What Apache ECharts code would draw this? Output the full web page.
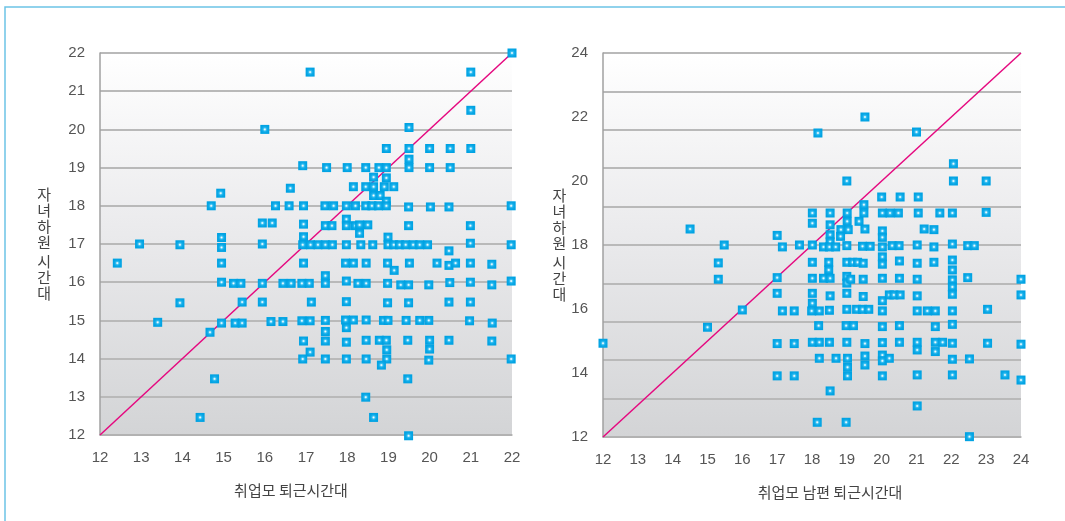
<!DOCTYPE html>
<html>
<head>
<meta charset="utf-8">
<script src="https://cdn.jsdelivr.net/npm/echarts@6/dist/echarts.min.js"></script>
<style>
  html, body { margin: 0; padding: 0; background: #fff; }
  #chart { width: 1065px; height: 521px; }
</style>
</head>
<body>
<div id="chart"></div>
<script>
// 취업모 퇴근시간대 vs 자녀하원 시간대
const motherPoints = [
    [22, 22], [17.1, 21.5], [21, 21.5], [21, 20.5], [16, 20], [19.5, 20.05],
    [18.95, 19.5], [19.5, 19.5], [19.5, 19.22], [20, 19.5], [20.5, 19.5], [21, 19.5],
    [16.92, 19.05], [17.5, 19], [18, 19], [18.45, 19], [18.77, 19], [18.95, 19], [19.5, 19], [20, 19], [20.5, 19],
    [18.64, 18.75], [18.95, 18.73], [16.62, 18.46], [14.93, 18.33],
    [18.15, 18.5], [18.45, 18.5], [18.64, 18.5], [18.9, 18.5], [19.13, 18.5],
    [18.64, 18.27], [18.8, 18.27], [18.95, 18.12],
    [14.7, 18], [16.26, 18], [16.59, 18], [16.94, 18], [17.46, 18], [17.67, 18], [17.98, 18], [18.2, 18],
    [18.45, 18], [18.6, 18], [18.76, 18], [18.95, 18], [19.49, 17.97], [20.02, 17.97], [20.47, 17.97], [21.98, 18],
    [15.94, 17.55], [16.18, 17.55], [16.94, 17.52], [17.47, 17.48], [17.63, 17.48], [17.98, 17.65], [17.98, 17.48],
    [18.2, 17.48], [18.3, 17.5], [18.5, 17.5], [18.3, 17.28], [19.49, 17.48], [20.99, 17.48],
    [12.96, 17], [13.94, 16.98], [14.95, 17.17], [14.95, 16.91], [15.94, 17], [16.94, 17.19],
    [16.92, 16.98], [17.11, 16.98], [17.29, 16.98], [17.47, 16.98], [17.64, 16.98], [17.98, 16.98],
    [18.33, 16.98], [18.62, 16.98], [18.99, 17.18], [18.99, 16.98], [19.13, 16.98], [19.27, 16.98],
    [19.42, 16.98], [19.6, 16.98], [19.76, 16.98], [19.95, 16.98], [20.47, 16.82], [20.99, 17.02], [21.98, 16.98],
    [12.42, 16.5], [14.95, 16.5], [16.94, 16.5], [17.96, 16.5], [18.15, 16.5], [18.46, 16.5], [18.98, 16.5],
    [19.14, 16.31], [19.51, 16.5], [20.18, 16.5], [20.47, 16.44], [20.63, 16.5], [20.99, 16.5], [21.51, 16.47],
    [14.95, 16], [15.24, 15.97], [15.42, 15.97], [15.94, 15.97], [16.44, 15.97], [16.64, 15.97], [16.9, 15.97],
    [17.08, 15.97], [17.47, 16.17], [17.47, 15.97], [17.98, 16.03], [18.26, 15.97], [18.46, 15.97], [18.98, 15.97],
    [19.3, 15.93], [19.49, 15.93], [19.98, 15.93], [20.49, 15.99], [20.99, 16], [21.51, 15.93], [21.98, 16.03],
    [13.94, 15.46], [15.45, 15.48], [15.94, 15.48], [17.13, 15.48], [17.98, 15.49], [18.98, 15.46],
    [19.49, 15.46], [20.47, 15.48], [20.99, 15.48],
    [13.4, 14.95], [14.95, 14.93], [15.28, 14.93], [15.45, 14.93], [16.15, 14.97], [16.44, 14.97], [16.9, 14.99],
    [17.1, 14.99], [17.47, 15], [17.47, 14.71], [17.47, 14.46], [17.96, 15.01], [18.15, 15.01], [17.98, 14.81],
    [18.46, 15.01], [18.88, 15], [18.99, 15], [19.43, 15], [19.76, 15], [19.98, 15], [20.97, 14.99], [21.52, 14.93],
    [14.67, 14.69],
    [16.94, 14.46], [17.98, 14.43], [18.46, 14.48], [18.78, 14.48], [18.95, 14.48], [19.47, 14.48], [20, 14.48],
    [20, 14.25], [20.47, 14.48], [21.51, 14.46], [17.1, 14.17], [18.96, 14.23],
    [16.92, 13.99], [17.47, 13.99], [17.98, 13.99], [18.46, 13.99], [18.96, 13.99], [18.83, 13.83],
    [19.98, 13.96], [21.98, 13.99],
    [14.78, 13.47], [19.47, 13.47], [18.45, 12.99], [14.43, 12.46], [18.64, 12.46], [19.49, 11.98]
];

// 취업모 남편 퇴근시간대 vs 자녀하원 시간대
const husbandPoints = [
    [19.52, 22], [18.17, 21.5], [21, 21.53], [22.06, 20.54], [19, 20], [22.06, 20], [23, 20],
    [20, 19.5], [20.53, 19.5], [21.05, 19.5], [19.49, 19.26],
    [18.01, 19], [18.52, 19], [19.01, 19], [19.49, 19], [20.02, 19], [20.24, 19], [20.48, 19],
    [21.05, 19], [21.67, 19], [22.03, 19], [23, 19.02],
    [18.01, 18.68], [18.52, 18.63], [19.01, 18.74], [19.35, 18.74], [18.83, 18.48], [19.04, 18.48],
    [18.52, 18.32], [18.52, 18.1], [19.52, 18.5], [20.02, 18.44], [20.02, 18.24], [21.22, 18.5],
    [21.5, 18.48], [14.5, 18.5], [17, 18.3], [18.82, 18.27],
    [15.48, 18], [17.15, 17.94], [17.64, 18], [18.01, 18], [18.33, 17.94], [18.5, 17.94], [18.68, 17.94],
    [19, 17.98], [19.45, 17.96], [19.67, 17.96], [20.02, 17.94], [20.3, 17.98], [20.5, 17.98], [21.02, 18],
    [21.5, 17.94], [22.03, 18.03], [22.47, 17.98], [22.66, 17.98],
    [15.31, 17.44], [18.01, 17.46], [18.48, 17.46], [18.48, 17.22], [19, 17.46], [19.17, 17.46], [19.31, 17.46],
    [19.47, 17.43], [20.02, 17.63], [20.02, 17.4], [20.51, 17.5], [21.02, 17.43], [21.5, 17.46],
    [22.03, 17.53], [22.03, 17.22],
    [15.31, 16.93], [17, 16.98], [18.01, 16.96], [18.33, 16.96], [18.52, 16.96], [19, 17.02], [19, 16.81],
    [19.11, 16.93], [19.47, 16.93], [20.02, 16.96], [20.51, 16.96], [21.02, 16.93], [22.03, 16.91],
    [22.03, 16.69], [22.47, 16.98], [24, 16.93],
    [17, 16.49], [18.01, 16.49], [18.01, 16.18], [18.52, 16.41], [19, 16.49], [19.47, 16.39], [20.02, 16.26],
    [20.22, 16.44], [20.35, 16.44], [20.53, 16.44], [21.02, 16.41], [22.03, 16.46], [24, 16.44],
    [16, 15.97], [17.15, 15.94], [17.49, 15.94], [17.99, 15.94], [18.21, 15.94], [18.5, 15.96], [19, 15.99],
    [19.28, 15.99], [19.45, 15.99], [19.63, 15.99], [20.02, 15.94], [21.02, 15.94], [21.31, 15.94],
    [21.54, 15.94], [22.03, 15.94], [23.04, 15.99],
    [15, 15.43], [18.19, 15.48], [18.98, 15.48], [19.19, 15.48], [20.02, 15.45], [20.51, 15.48],
    [21.54, 15.45], [22.03, 15.52],
    [12, 14.93], [17, 14.92], [17.49, 14.92], [18.01, 14.96], [18.21, 14.96], [18.5, 14.96], [19, 14.96],
    [19.52, 14.92], [20.02, 14.95], [20.51, 14.96], [21.02, 14.96], [21.02, 14.72], [21.54, 14.96],
    [21.75, 14.96], [21.54, 14.67], [22.03, 14.93], [23.04, 14.93], [24, 14.9],
    [18.21, 14.46], [18.69, 14.46], [19.02, 14.46], [19.02, 14.18], [19.52, 14.53], [19.52, 14.25],
    [20.02, 14.56], [20.02, 14.38], [20.22, 14.46], [22.03, 14.43], [22.52, 14.44],
    [17, 13.91], [17.49, 13.91], [19.02, 13.91], [20.02, 13.91], [21.02, 13.94], [22.03, 13.94],
    [23.54, 13.94], [24, 13.78],
    [18.52, 13.44], [21.02, 12.97], [18.15, 12.46], [18.98, 12.46], [22.52, 12.01]
];

// 대각선 (x = y)
const motherDiagonal = [[12, 12], [22, 22]];
const husbandDiagonal = [[12, 12], [24, 24]];

const yAxisName = '자\n녀\n하\n원\n{s| }\n시\n간\n대';
const motherAxisName = '취업모 퇴근시간대';
const husbandAxisName = '취업모 남편 퇴근시간대';

const numFont = 'Liberation Sans, Arial, sans-serif';
const krFont = 'Noto Sans CJK KR, sans-serif';

const plotBg = {
    type: 'linear', x: 0, y: 0, x2: 0, y2: 1,
    colorStops: [
        { offset: 0, color: '#ffffff' },
        { offset: 0.45, color: '#ebebed' },
        { offset: 1, color: '#d3d4d6' }
    ]
};

const markerColor = {
    type: 'radial', x: 0.5, y: 0.5, r: 0.5,
    colorStops: [
        { offset: 0, color: '#ffffff' },
        { offset: 0.12, color: '#d8f4fe' },
        { offset: 0.35, color: '#38bff0' },
        { offset: 0.6, color: '#0eaae8' },
        { offset: 1, color: '#00a2e2' }
    ]
};

function xAxisFor(gridIndex, min, max, name, pad) {
    return {
        type: 'value', gridIndex: gridIndex, min: min, max: max, interval: 1,
        name: name, nameLocation: 'middle', nameGap: 48,
        nameTextStyle: { fontFamily: krFont, fontSize: 15, color: '#444', padding: pad },
        axisLine: { show: true, lineStyle: { color: '#b0b0b0', width: 1.5 } },
        axisTick: { show: false },
        splitLine: { show: false },
        axisLabel: { fontFamily: numFont, fontSize: 15, color: '#555', margin: 15 }
    };
}

function yAxisFor(gridIndex, min, max, interval, showSplit, gap) {
    return {
        type: 'value', gridIndex: gridIndex, min: min, max: max, interval: interval,
        name: yAxisName, nameLocation: 'middle', nameGap: gap, nameRotate: 0,
        nameTextStyle: {
            fontFamily: krFont, fontSize: 15, color: '#444', lineHeight: 16,
            rich: { s: { lineHeight: 3, fontSize: 3 } }
        },
        axisLine: { show: true, lineStyle: { color: '#a0a0a0', width: 1.5 } },
        axisTick: { show: false },
        splitLine: { show: showSplit, lineStyle: { color: '#b9b9b9', width: 2 } },
        axisLabel: { fontFamily: numFont, fontSize: 15, color: '#555', margin: 15 }
    };
}

const dom = document.getElementById('chart');
const myChart = echarts.init(dom, null, { renderer: 'canvas' });

const option = {
    backgroundColor: '#ffffff',
    animation: false,
    graphic: [
        {
            type: 'rect', silent: true, z: -10,
            shape: { x: 5, y: 7, width: 1200, height: 700 },
            style: { fill: 'none', stroke: '#6cc3e6', lineWidth: 1.5 }
        }
    ],
    grid: [
        { left: 100, top: 53, width: 412, height: 382, show: true, backgroundColor: plotBg, borderWidth: 0 },
        { left: 603, top: 53, width: 418, height: 384, show: true, backgroundColor: plotBg, borderWidth: 0 }
    ],
    xAxis: [
        xAxisFor(0, 12, 22, motherAxisName, [0, 30, 0, 0]),
        xAxisFor(1, 12, 24, husbandAxisName, [0, 0, 0, 36])
    ],
    yAxis: [
        yAxisFor(0, 12, 22, 1, true, 49),
        yAxisFor(1, 12, 24, 2, false, 28),
        {
            // 오른쪽 차트의 배경 격자선 (눈금과 별개로 10등분)
            type: 'value', gridIndex: 1, min: 0, max: 10, interval: 1,
            axisLine: { show: false }, axisTick: { show: false }, axisLabel: { show: false },
            splitLine: { show: true, lineStyle: { color: '#b9b9b9', width: 2 } }
        }
    ],
    series: [
        {
            type: 'line', xAxisIndex: 0, yAxisIndex: 0, data: motherDiagonal,
            symbol: 'none', lineStyle: { color: '#e5087f', width: 1.5 }, z: 3
        },
        {
            type: 'line', xAxisIndex: 1, yAxisIndex: 1, data: husbandDiagonal,
            symbol: 'none', lineStyle: { color: '#e5087f', width: 1.5 }, z: 3
        },
        {
            type: 'scatter', xAxisIndex: 0, yAxisIndex: 0, data: motherPoints,
            symbol: 'rect', symbolSize: 9, clip: false, z: 4,
            itemStyle: { color: markerColor, opacity: 1 }
        },
        {
            type: 'scatter', xAxisIndex: 1, yAxisIndex: 1, data: husbandPoints,
            symbol: 'rect', symbolSize: 9, clip: false, z: 4,
            itemStyle: { color: markerColor, opacity: 1 }
        }
    ]
};

myChart.setOption(option);
</script>
</body>
</html>
